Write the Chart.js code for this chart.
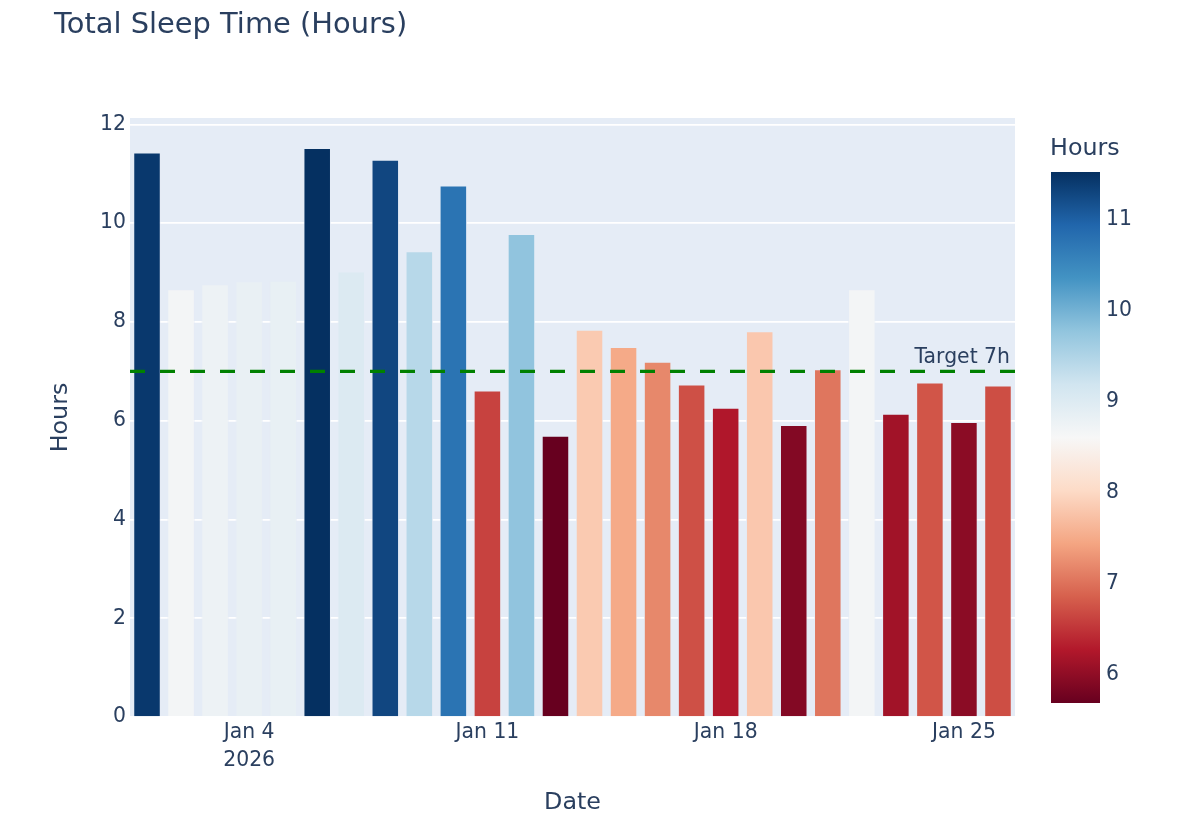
<!DOCTYPE html>
<html>
<head>
<meta charset="utf-8">
<script src="https://cdn.jsdelivr.net/npm/chart.js@4.4.1/dist/chart.umd.min.js"></script>
<style>
  html, body { margin: 0; padding: 0; background: #fff; }
  #wrap { width: 1200px; height: 837px; position: relative; }
</style>
</head>
<body>
<div id="wrap"><canvas id="canvas"></canvas></div>
<script>
// data
const dates = ['2026-01-01','2026-01-02','2026-01-03','2026-01-04','2026-01-05','2026-01-06','2026-01-07',
  '2026-01-08','2026-01-09','2026-01-10','2026-01-11','2026-01-12','2026-01-13','2026-01-14',
  '2026-01-15','2026-01-16','2026-01-17','2026-01-18','2026-01-19','2026-01-20','2026-01-21',
  '2026-01-22','2026-01-23','2026-01-24','2026-01-25','2026-01-26'];
const sleepHours = [11.43, 8.66, 8.76, 8.82, 8.83, 11.52, 9.02, 11.28, 9.43, 10.76, 6.61, 9.78, 5.69,
  7.84, 7.49, 7.19, 6.73, 6.26, 7.81, 5.91, 7.04, 8.66, 6.14, 6.77, 5.97, 6.71];
const xTickDates = ['2026-01-04', '2026-01-11', '2026-01-18', '2026-01-25'];
const xTickLabels = [['Jan 4', '2026'], 'Jan 11', 'Jan 18', 'Jan 25'];
const yTicks = [0, 2, 4, 6, 8, 10, 12];
const colorbarTicks = [6, 7, 8, 9, 10, 11];
const targetHours = 7;
const targetLabel = 'Target 7h';

// RdBu colour scale
const RDBU = [[103,0,31],[178,24,43],[214,96,77],[244,165,130],[253,219,199],[247,247,247],
  [209,229,240],[146,197,222],[67,147,195],[33,102,172],[5,48,97]];
const cmin = Math.min.apply(null, sleepHours);
const cmax = Math.max.apply(null, sleepHours);

function colorAt(t) {
  t = Math.max(0, Math.min(1, t));
  const p = t * (RDBU.length - 1);
  const i = Math.min(Math.floor(p), RDBU.length - 2);
  const f = p - i;
  const a = RDBU[i], b = RDBU[i + 1];
  return 'rgb(' + [0,1,2].map(k => Math.round(a[k] + (b[k] - a[k]) * f)).join(',') + ')';
}
function colorFor(v) { return colorAt((v - cmin) / (cmax - cmin)); }

const FONT = '"DejaVu Sans", Verdana, sans-serif';
const TXT = '#2a3f5f';
const TICK = 20.4, AXT = 23.8;

// plot background
const bgPlugin = {
  id: 'plotBg',
  beforeDraw(chart) {
    const a = chart.chartArea, ctx = chart.ctx;
    ctx.save();
    ctx.fillStyle = '#E5ECF6';
    ctx.fillRect(a.left, a.top, a.right - a.left, a.bottom - a.top);
    ctx.restore();
  }
};

// title, target line, colour bar
const extrasPlugin = {
  id: 'extras',
  afterDatasetsDraw(chart) {
    const ctx = chart.ctx, a = chart.chartArea, y = chart.scales.y.getPixelForValue(targetHours);
    ctx.save();
    ctx.strokeStyle = 'rgb(0,128,0)';
    ctx.lineWidth = 3.4;
    ctx.setLineDash([15, 15]);
    ctx.beginPath();
    ctx.moveTo(a.left, y);
    ctx.lineTo(a.right, y);
    ctx.stroke();
    ctx.setLineDash([]);
    ctx.fillStyle = TXT;
    ctx.font = TICK + 'px ' + FONT;
    ctx.textAlign = 'right';
    ctx.textBaseline = 'alphabetic';
    ctx.fillText(targetLabel, a.right - 5, y - 8);
    ctx.restore();
  },
  afterDraw(chart) {
    const ctx = chart.ctx, a = chart.chartArea;
    ctx.save();
    // title
    ctx.fillStyle = TXT;
    ctx.font = '28.9px ' + FONT;
    ctx.textAlign = 'left';
    ctx.textBaseline = 'middle';
    ctx.fillText('Total Sleep Time (Hours)', 54, 25);

    // colour bar
    const top = a.top + 54, bottom = a.bottom - 14, left = a.right + 36, w = 49;
    const g = ctx.createLinearGradient(0, bottom, 0, top);
    RDBU.forEach((c, i) => g.addColorStop(i / (RDBU.length - 1), 'rgb(' + c.join(',') + ')'));
    ctx.fillStyle = g;
    ctx.fillRect(left, top, w, bottom - top);

    ctx.fillStyle = TXT;
    ctx.font = AXT + 'px ' + FONT;
    ctx.textAlign = 'left';
    ctx.textBaseline = 'middle';
    ctx.fillText('Hours', left - 1, top - 23);

    ctx.font = TICK + 'px ' + FONT;
    colorbarTicks.forEach(v => {
      const ty = bottom - (v - cmin) / (cmax - cmin) * (bottom - top);
      ctx.fillText(String(v), left + w + 6, ty);
    });
    ctx.restore();
  }
};

const ctx = document.getElementById('canvas').getContext('2d');
const chart = new Chart(ctx, {
  type: 'bar',
  data: {
    labels: dates,
    datasets: [{
      label: 'Hours',
      data: sleepHours,
      backgroundColor: c => colorFor(c.raw),
      borderColor: '#E5ECF6',
      borderWidth: 0.85,
      categoryPercentage: 0.8,
      barPercentage: 1.0
    }]
  },
  options: {
    responsive: true,
    maintainAspectRatio: false,
    animation: false,
    layout: { padding: { left: 0, right: 185, top: 118, bottom: 0 } },
    plugins: {
      legend: { display: false },
      tooltip: { enabled: false }
    },
    scales: {
      x: {
        grid: { display: false, drawTicks: false },
        border: { display: false },
        ticks: {
          autoSkip: false,
          maxRotation: 0,
          padding: 2,
          color: TXT,
          font: { family: FONT, size: TICK, lineHeight: 1.37 },
          callback: function(value, index) {
            const k = xTickDates.indexOf(dates[index]);
            return k >= 0 ? xTickLabels[k] : '';
          }
        },
        title: {
          display: true,
          text: 'Date',
          color: TXT,
          font: { family: FONT, size: AXT },
          padding: { top: 0, bottom: 20 }
        },
        afterFit: s => { s.height = 120; }
      },
      y: {
        min: 0,
        max: 12.13,
        grid: { color: '#ffffff', lineWidth: 1.7, drawTicks: false },
        border: { display: false },
        ticks: {
          includeBounds: false,
          stepSize: 2,
          padding: 4,
          color: TXT,
          font: { family: FONT, size: TICK }
        },
        afterBuildTicks: s => { s.ticks = yTicks.map(v => ({ value: v })); },
        title: {
          display: true,
          text: 'Hours',
          color: TXT,
          font: { family: FONT, size: AXT },
          padding: { top: 47, bottom: 0 }
        },
        afterFit: s => { s.width = 130; }
      }
    }
  },
  plugins: [bgPlugin, extrasPlugin]
});
</script>
</body>
</html>
